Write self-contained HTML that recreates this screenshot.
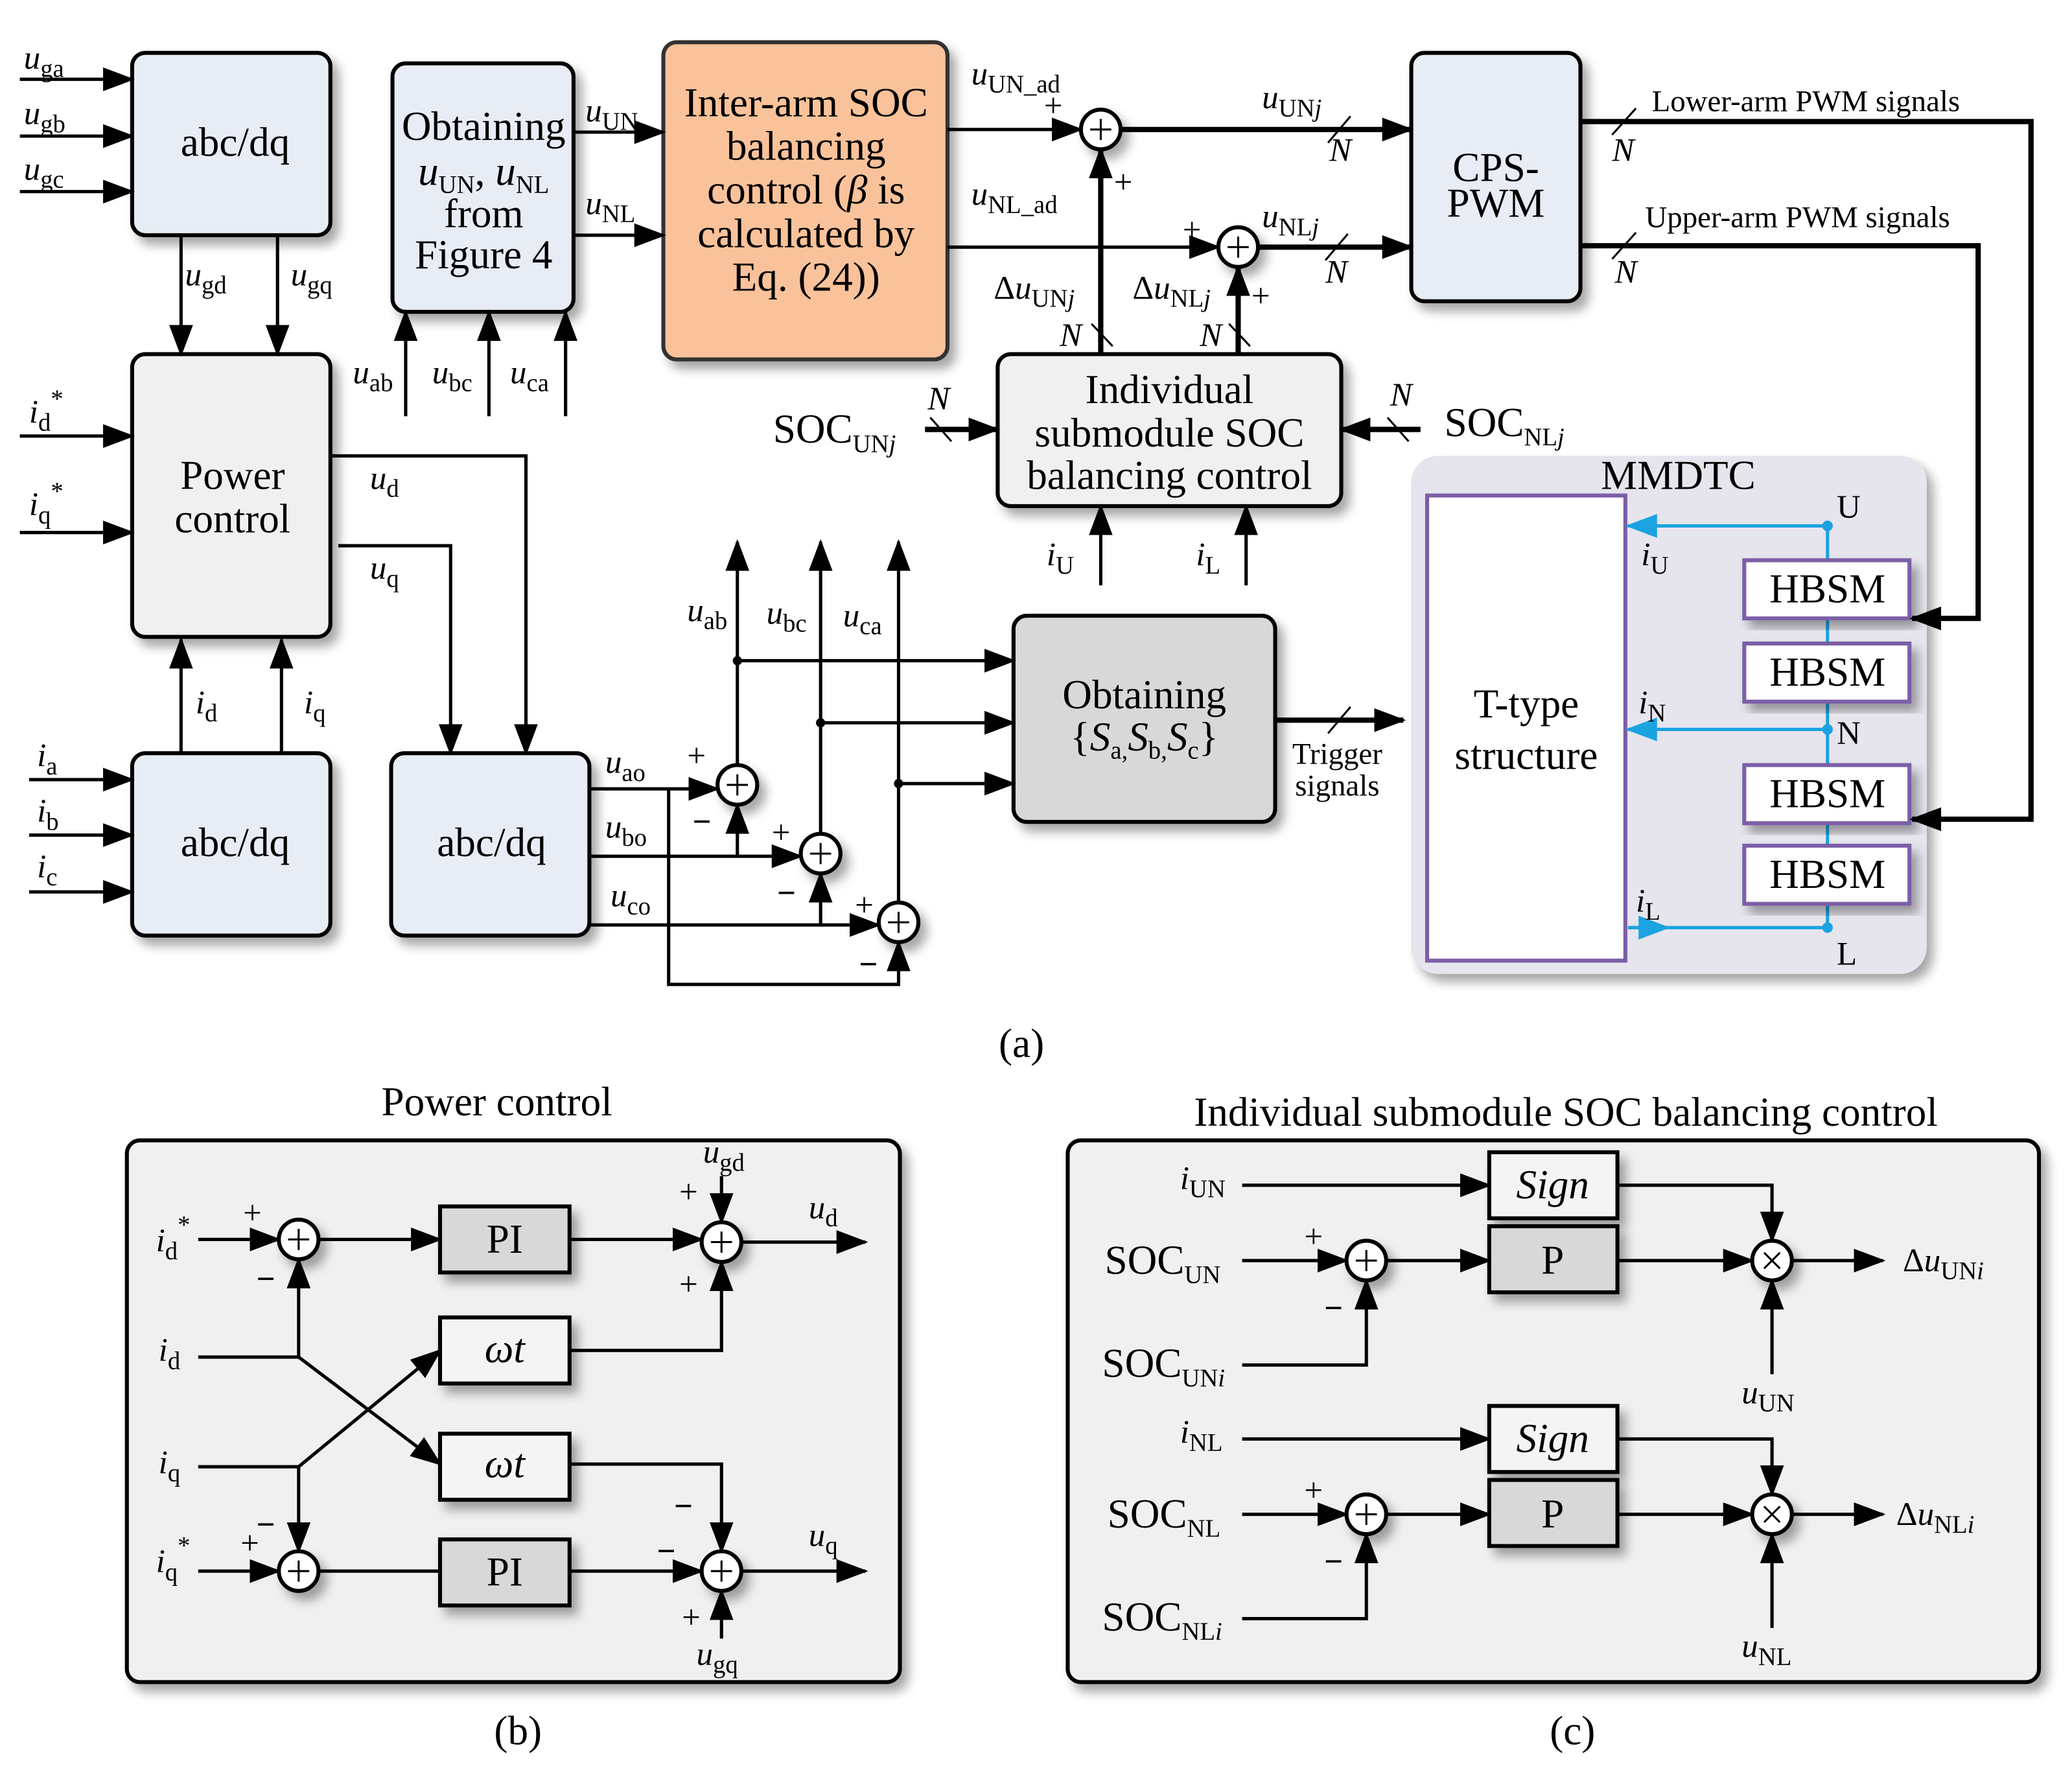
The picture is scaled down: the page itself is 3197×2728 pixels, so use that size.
<!DOCTYPE html>
<html><head><meta charset="utf-8"><style>
html,body{margin:0;padding:0;background:#fff}
svg{display:block}
text{font-family:"Liberation Serif","DejaVu Serif",serif;fill:#000}
.bx{font-size:31px}
.lb{font-size:25px}
.i{font-style:italic}
.s{font-size:19px;font-style:normal}
.si{font-size:19px;font-style:italic}
</style></head><body>
<svg width="3197" height="2728" viewBox="0 0 1568 1338" xmlns="http://www.w3.org/2000/svg">
<defs>
<marker id="a" markerUnits="userSpaceOnUse" markerWidth="24" markerHeight="18" refX="22" refY="9" orient="auto"><path d="M0,0 L24,9 L0,18 z" fill="#000"/></marker>
<marker id="ab" markerUnits="userSpaceOnUse" markerWidth="24" markerHeight="18" refX="22" refY="9" orient="auto"><path d="M0,0 L24,9 L0,18 z" fill="#1aa3e0"/></marker>
<filter id="sh" x="-10%" y="-10%" width="130%" height="130%"><feDropShadow dx="5" dy="6" stdDeviation="4" flood-color="#000" flood-opacity="0.35"/></filter>
</defs>
<g stroke="#000" stroke-width="2.5" fill="none">
<rect x="100" y="40" width="150" height="138" rx="10" fill="#e8ecf4" stroke-width="3" filter="url(#sh)"/>
<rect x="297" y="48" width="137" height="188" rx="10" fill="#e8ecf4" stroke-width="3" filter="url(#sh)"/>
<rect x="502" y="32" width="215" height="240" rx="10" fill="#f9c29a" stroke="#333" stroke-width="3" filter="url(#sh)"/>
<rect x="1068" y="40" width="128" height="188" rx="10" fill="#e8ecf4" stroke-width="3" filter="url(#sh)"/>
<rect x="100" y="268" width="150" height="214" rx="10" fill="#f0f0f0" stroke-width="3" filter="url(#sh)"/>
<rect x="100" y="570" width="150" height="138" rx="10" fill="#e8ecf4" stroke-width="3" filter="url(#sh)"/>
<rect x="296" y="570" width="150" height="138" rx="10" fill="#e8ecf4" stroke-width="3" filter="url(#sh)"/>
<rect x="755" y="268" width="260" height="115" rx="10" fill="#f0f0f0" stroke-width="3" filter="url(#sh)"/>
<rect x="767" y="466" width="198" height="156" rx="10" fill="#d8d8d8" stroke-width="3" filter="url(#sh)"/>
<rect x="1068" y="345" width="390" height="392" rx="20" fill="#e6e4ec" stroke="none" filter="url(#sh)"/>
<rect x="1080" y="375" width="150" height="352" fill="#fff" stroke="#7b5ea7" stroke-width="3"/>
<g stroke="#1aa3e0">
<line x1="1383" y1="398" x2="1383" y2="702"/>
<line x1="1383" y1="398" x2="1232" y2="398" marker-end="url(#ab)"/>
<line x1="1383" y1="552" x2="1232" y2="552" marker-end="url(#ab)"/>
<line x1="1232" y1="702" x2="1383" y2="702"/>
<line x1="1232" y1="702" x2="1262" y2="702" marker-end="url(#ab)"/>
</g>
<circle cx="1383" cy="398" r="4" fill="#1aa3e0" stroke="none"/>
<circle cx="1383" cy="552" r="4" fill="#1aa3e0" stroke="none"/>
<circle cx="1383" cy="702" r="4" fill="#1aa3e0" stroke="none"/>
<rect x="1320" y="424" width="125" height="44" fill="#fff" stroke="#7b5ea7" stroke-width="3" filter="url(#sh)"/>
<rect x="1320" y="487" width="125" height="44" fill="#fff" stroke="#7b5ea7" stroke-width="3" filter="url(#sh)"/>
<rect x="1320" y="579" width="125" height="44" fill="#fff" stroke="#7b5ea7" stroke-width="3" filter="url(#sh)"/>
<rect x="1320" y="640" width="125" height="44" fill="#fff" stroke="#7b5ea7" stroke-width="3" filter="url(#sh)"/>

<line x1="15" y1="60" x2="100" y2="60" marker-end="url(#a)"/>
<line x1="15" y1="103" x2="100" y2="103" marker-end="url(#a)"/>
<line x1="15" y1="145" x2="100" y2="145" marker-end="url(#a)"/>
<line x1="137" y1="178" x2="137" y2="268" marker-end="url(#a)"/>
<line x1="210" y1="178" x2="210" y2="268" marker-end="url(#a)"/>
<line x1="15" y1="330" x2="100" y2="330" marker-end="url(#a)"/>
<line x1="15" y1="403" x2="100" y2="403" marker-end="url(#a)"/>
<line x1="22" y1="590" x2="100" y2="590" marker-end="url(#a)"/>
<line x1="22" y1="632" x2="100" y2="632" marker-end="url(#a)"/>
<line x1="22" y1="675" x2="100" y2="675" marker-end="url(#a)"/>
<line x1="137" y1="570" x2="137" y2="484" marker-end="url(#a)"/>
<line x1="213" y1="570" x2="213" y2="484" marker-end="url(#a)"/>
<polyline points="250,345 398,345 398,570" marker-end="url(#a)"/>
<polyline points="256,413 341,413 341,570" marker-end="url(#a)"/>
<line x1="307" y1="315" x2="307" y2="236" marker-end="url(#a)"/>
<line x1="370" y1="315" x2="370" y2="236" marker-end="url(#a)"/>
<line x1="428" y1="315" x2="428" y2="236" marker-end="url(#a)"/>
<line x1="434" y1="100" x2="502" y2="100" marker-end="url(#a)"/>
<line x1="434" y1="178" x2="502" y2="178" marker-end="url(#a)"/>
<line x1="717" y1="98" x2="818" y2="98" marker-end="url(#a)"/>
<line x1="717" y1="187" x2="922" y2="187" marker-end="url(#a)"/>
<line x1="848" y1="98" x2="1068" y2="98" stroke-width="4" marker-end="url(#a)"/>
<line x1="952" y1="187" x2="1068" y2="187" stroke-width="4" marker-end="url(#a)"/>
<line x1="833" y1="268" x2="833" y2="113" stroke-width="4" marker-end="url(#a)"/>
<line x1="937" y1="268" x2="937" y2="202" stroke-width="4" marker-end="url(#a)"/>
<line x1="700" y1="325" x2="755" y2="325" stroke-width="4" marker-end="url(#a)"/>
<line x1="1075" y1="325" x2="1015" y2="325" stroke-width="4" marker-end="url(#a)"/>
<line x1="833" y1="443" x2="833" y2="383" marker-end="url(#a)"/>
<line x1="943" y1="443" x2="943" y2="383" marker-end="url(#a)"/>
<polyline points="1196,92 1537,92 1537,620 1447,620" stroke-width="4" marker-end="url(#a)"/>
<polyline points="1196,186 1497,186 1497,468 1447,468" stroke-width="4" marker-end="url(#a)"/>
<g stroke-width="1.5">
<line x1="1005" y1="108" x2="1022" y2="88"/><line x1="1003" y1="197" x2="1020" y2="177"/>
<line x1="1220" y1="102" x2="1238" y2="82"/><line x1="1220" y1="196" x2="1238" y2="176"/>
<line x1="826" y1="245" x2="842" y2="262"/><line x1="930" y1="245" x2="946" y2="262"/>
<line x1="704" y1="316" x2="720" y2="334"/><line x1="1050" y1="316" x2="1066" y2="334"/>
<line x1="1005" y1="555" x2="1022" y2="535"/>
</g>
<line x1="446" y1="597" x2="543" y2="597" marker-end="url(#a)"/>
<line x1="446" y1="648" x2="606" y2="648" marker-end="url(#a)"/>
<line x1="446" y1="700" x2="665" y2="700" marker-end="url(#a)"/>
<line x1="558" y1="648" x2="558" y2="609" marker-end="url(#a)"/>
<line x1="621" y1="700" x2="621" y2="661" marker-end="url(#a)"/>
<polyline points="506,597 506,745 680,745 680,713" marker-end="url(#a)"/>
<line x1="558" y1="579" x2="558" y2="410" marker-end="url(#a)"/>
<line x1="621" y1="631" x2="621" y2="410" marker-end="url(#a)"/>
<line x1="680" y1="683" x2="680" y2="410" marker-end="url(#a)"/>
<line x1="558" y1="500" x2="767" y2="500" marker-end="url(#a)"/>
<line x1="621" y1="547" x2="767" y2="547" marker-end="url(#a)"/>
<line x1="680" y1="593" x2="767" y2="593" marker-end="url(#a)"/>
<line x1="965" y1="545" x2="1062" y2="545" stroke-width="4" marker-end="url(#a)"/>
</g>
<circle cx="558" cy="500" r="3.5"/><circle cx="621" cy="547" r="3.5"/><circle cx="680" cy="593" r="3.5"/>

<g fill="#fff" stroke="#000" stroke-width="3" filter="url(#sh)">
<circle cx="833" cy="98" r="15"/><circle cx="937" cy="187" r="15"/>
<circle cx="558" cy="594" r="15"/><circle cx="621" cy="646" r="15"/><circle cx="680" cy="698" r="15"/>
</g>
<g stroke="#000" stroke-width="1.5">
<path d="M825,98h16M833,90v16M929,187h16M937,179v16M550,594h16M558,586v16M613,646h16M621,638v16M672,698h16M680,690v16"/>
</g>

<text class="bx" x="178" y="118" text-anchor="middle">abc/dq</text>
<text class="bx" x="178" y="648" text-anchor="middle">abc/dq</text>
<text class="bx" x="372" y="648" text-anchor="middle">abc/dq</text>
<text class="bx" x="366" y="106" text-anchor="middle">Obtaining</text>
<text class="bx" x="366" y="140" text-anchor="middle"><tspan class="i">u</tspan><tspan class="s" dy="6">UN</tspan><tspan dy="-6">, </tspan><tspan class="i">u</tspan><tspan class="s" dy="6">NL</tspan></text>
<text class="bx" x="366" y="172" text-anchor="middle">from</text>
<text class="bx" x="366" y="203" text-anchor="middle">Figure 4</text>
<text class="bx" x="610" y="88" text-anchor="middle">Inter-arm SOC</text>
<text class="bx" x="610" y="121" text-anchor="middle">balancing</text>
<text class="bx" x="610" y="154" text-anchor="middle">control (<tspan class="i">β</tspan> is</text>
<text class="bx" x="610" y="187" text-anchor="middle">calculated by</text>
<text class="bx" x="610" y="220" text-anchor="middle">Eq. (24))</text>
<text class="bx" x="1132" y="137" text-anchor="middle">CPS-</text>
<text class="bx" x="1132" y="164" text-anchor="middle">PWM</text>
<text class="bx" x="176" y="370" text-anchor="middle">Power</text>
<text class="bx" x="176" y="403" text-anchor="middle">control</text>
<text class="bx" x="885" y="305" text-anchor="middle">Individual</text>
<text class="bx" x="885" y="338" text-anchor="middle">submodule SOC</text>
<text class="bx" x="885" y="370" text-anchor="middle">balancing control</text>
<text class="bx" x="866" y="536" text-anchor="middle">Obtaining</text>
<text class="bx" x="866" y="568" text-anchor="middle">{<tspan class="i">S</tspan><tspan class="s" dy="6">a,</tspan><tspan class="i" dy="-6">S</tspan><tspan class="s" dy="6">b,</tspan><tspan class="i" dy="-6">S</tspan><tspan class="s" dy="6">c</tspan><tspan dy="-6">}</tspan></text>
<text class="bx" x="1155" y="543" text-anchor="middle">T-type</text>
<text class="bx" x="1155" y="582" text-anchor="middle">structure</text>
<text class="bx" x="1383" y="456" text-anchor="middle">HBSM</text>
<text class="bx" x="1383" y="519" text-anchor="middle">HBSM</text>
<text class="bx" x="1383" y="611" text-anchor="middle">HBSM</text>
<text class="bx" x="1383" y="672" text-anchor="middle">HBSM</text>
<text class="bx" x="1270" y="370" text-anchor="middle">MMDTC</text>
<text class="lb" x="1390" y="392">U</text><text class="lb" x="1390" y="563">N</text><text class="lb" x="1390" y="730">L</text>
<text class="lb" x="1242" y="428"><tspan class="i">i</tspan><tspan class="s" dy="6">U</tspan></text>
<text class="lb" x="1240" y="540"><tspan class="i">i</tspan><tspan class="s" dy="6">N</tspan></text>
<text class="lb" x="1238" y="690"><tspan class="i">i</tspan><tspan class="s" dy="6">L</tspan></text>

<g class="lb">
<text class="lb" x="18" y="52"><tspan class="i">u</tspan><tspan class="s" dy="6">ga</tspan></text>
<text class="lb" x="18" y="94"><tspan class="i">u</tspan><tspan class="s" dy="6">gb</tspan></text>
<text class="lb" x="18" y="136"><tspan class="i">u</tspan><tspan class="s" dy="6">gc</tspan></text>
<text class="lb" x="140" y="216"><tspan class="i">u</tspan><tspan class="s" dy="6">gd</tspan></text>
<text class="lb" x="220" y="216"><tspan class="i">u</tspan><tspan class="s" dy="6">gq</tspan></text>
<text class="lb" x="22" y="320"><tspan class="i">i</tspan><tspan class="s" dy="6">d</tspan><tspan class="s" dy="-18">*</tspan></text>
<text class="lb" x="22" y="390"><tspan class="i">i</tspan><tspan class="s" dy="6">q</tspan><tspan class="s" dy="-18">*</tspan></text>
<text class="lb" x="28" y="580"><tspan class="i">i</tspan><tspan class="s" dy="6">a</tspan></text>
<text class="lb" x="28" y="622"><tspan class="i">i</tspan><tspan class="s" dy="6">b</tspan></text>
<text class="lb" x="28" y="664"><tspan class="i">i</tspan><tspan class="s" dy="6">c</tspan></text>
<text class="lb" x="148" y="540"><tspan class="i">i</tspan><tspan class="s" dy="6">d</tspan></text>
<text class="lb" x="230" y="540"><tspan class="i">i</tspan><tspan class="s" dy="6">q</tspan></text>
<text class="lb" x="280" y="370"><tspan class="i">u</tspan><tspan class="s" dy="6">d</tspan></text>
<text class="lb" x="280" y="438"><tspan class="i">u</tspan><tspan class="s" dy="6">q</tspan></text>
<text class="lb" x="267" y="290"><tspan class="i">u</tspan><tspan class="s" dy="6">ab</tspan></text>
<text class="lb" x="327" y="290"><tspan class="i">u</tspan><tspan class="s" dy="6">bc</tspan></text>
<text class="lb" x="386" y="290"><tspan class="i">u</tspan><tspan class="s" dy="6">ca</tspan></text>
<text class="lb" x="443" y="92"><tspan class="i">u</tspan><tspan class="s" dy="6">UN</tspan></text>
<text class="lb" x="443" y="162"><tspan class="i">u</tspan><tspan class="s" dy="6">NL</tspan></text>
<text class="lb" x="735" y="64"><tspan class="i">u</tspan><tspan class="s" dy="6">UN_ad</tspan></text>
<text class="lb" x="735" y="155"><tspan class="i">u</tspan><tspan class="s" dy="6">NL_ad</tspan></text>
<text class="lb" x="790" y="88">+</text><text class="lb" x="843" y="146">+</text>
<text class="lb" x="895" y="182">+</text><text class="lb" x="947" y="232">+</text>
<text class="lb" x="955" y="82"><tspan class="i">u</tspan><tspan class="s" dy="6">UN</tspan><tspan class="si">j</tspan></text>
<text class="lb" x="955" y="172"><tspan class="i">u</tspan><tspan class="s" dy="6">NL</tspan><tspan class="si">j</tspan></text>
<text class="lb i" x="1006" y="122">N</text><text class="lb i" x="1003" y="214">N</text>
<text class="lb i" x="1220" y="122">N</text><text class="lb i" x="1222" y="214">N</text>
<text class="lb" x="752" y="226">Δ<tspan class="i">u</tspan><tspan class="s" dy="6">UN</tspan><tspan class="si">j</tspan></text>
<text class="lb" x="857" y="226">Δ<tspan class="i">u</tspan><tspan class="s" dy="6">NL</tspan><tspan class="si">j</tspan></text>
<text class="lb i" x="802" y="262">N</text><text class="lb i" x="908" y="262">N</text>
<text class="lb i" x="702" y="310">N</text><text class="lb i" x="1052" y="307">N</text>
<text class="bx" x="585" y="335">SOC<tspan class="s" dy="7">UN</tspan><tspan class="si">j</tspan></text>
<text class="bx" x="1093" y="330">SOC<tspan class="s" dy="7">NL</tspan><tspan class="si">j</tspan></text>
<text class="lb" x="792" y="428"><tspan class="i">i</tspan><tspan class="s" dy="6">U</tspan></text>
<text class="lb" x="905" y="428"><tspan class="i">i</tspan><tspan class="s" dy="6">L</tspan></text>
<text class="lb" x="1250" y="84" style="font-size:23px">Lower-arm PWM signals</text>
<text class="lb" x="1245" y="172" style="font-size:23px">Upper-arm  PWM signals</text>
<text class="lb" x="520" y="470"><tspan class="i">u</tspan><tspan class="s" dy="6">ab</tspan></text>
<text class="lb" x="580" y="472"><tspan class="i">u</tspan><tspan class="s" dy="6">bc</tspan></text>
<text class="lb" x="638" y="474"><tspan class="i">u</tspan><tspan class="s" dy="6">ca</tspan></text>
<text class="lb" x="458" y="585"><tspan class="i">u</tspan><tspan class="s" dy="6">ao</tspan></text>
<text class="lb" x="458" y="634"><tspan class="i">u</tspan><tspan class="s" dy="6">bo</tspan></text>
<text class="lb" x="462" y="686"><tspan class="i">u</tspan><tspan class="s" dy="6">co</tspan></text>
<text class="lb" x="520" y="580">+</text><text class="lb" x="584" y="638">+</text><text class="lb" x="647" y="693">+</text>
<text class="lb" x="524" y="630" style="font-weight:bold">−</text><text class="lb" x="588" y="684" style="font-weight:bold">−</text><text class="lb" x="650" y="738" style="font-weight:bold">−</text>
<text class="lb" x="1012" y="578" text-anchor="middle" style="font-size:23px">Trigger</text>
<text class="lb" x="1012" y="602" text-anchor="middle" style="font-size:23px">signals</text>
<text class="bx" x="773" y="800" text-anchor="middle">(a)</text>
</g>

<text class="bx" x="376" y="844" text-anchor="middle">Power control</text>
<rect x="96" y="863" width="585" height="410" rx="10" fill="#f0f0f0" stroke="#000" stroke-width="3" filter="url(#sh)"/>
<g stroke="#000" stroke-width="2.5" fill="none">
<line x1="150" y1="938" x2="211" y2="938" marker-end="url(#a)"/>
<line x1="241" y1="938" x2="333" y2="938" marker-end="url(#a)"/>
<line x1="431" y1="938" x2="531" y2="938" marker-end="url(#a)"/>
<line x1="561" y1="940" x2="655" y2="940" marker-end="url(#a)"/>
<line x1="546" y1="890" x2="546" y2="925" marker-end="url(#a)"/>
<line x1="150" y1="1027" x2="226" y2="1027"/>
<line x1="226" y1="1027" x2="226" y2="953" marker-end="url(#a)"/>
<line x1="226" y1="1027" x2="333" y2="1108" marker-end="url(#a)"/>
<line x1="150" y1="1110" x2="226" y2="1110"/>
<line x1="226" y1="1110" x2="333" y2="1022" marker-end="url(#a)"/>
<line x1="226" y1="1110" x2="226" y2="1174" marker-end="url(#a)"/>
<polyline points="431,1022 546,1022 546,955" marker-end="url(#a)"/>
<polyline points="431,1108 546,1108 546,1174" marker-end="url(#a)"/>
<line x1="150" y1="1189" x2="211" y2="1189" marker-end="url(#a)"/>
<line x1="241" y1="1189" x2="333" y2="1189"/>
<line x1="431" y1="1189" x2="531" y2="1189" marker-end="url(#a)"/>
<line x1="561" y1="1189" x2="655" y2="1189" marker-end="url(#a)"/>
<line x1="546" y1="1240" x2="546" y2="1204" marker-end="url(#a)"/>
</g>
<g stroke="#000" stroke-width="3" filter="url(#sh)">
<rect x="333" y="913" width="98" height="50" fill="#d8d8d8"/>
<rect x="333" y="997" width="98" height="50" fill="#f4f4f4"/>
<rect x="333" y="1085" width="98" height="50" fill="#f4f4f4"/>
<rect x="333" y="1165" width="98" height="50" fill="#d8d8d8"/>
<circle cx="226" cy="938" r="15" fill="#fff"/><circle cx="546" cy="940" r="15" fill="#fff"/>
<circle cx="226" cy="1189" r="15" fill="#fff"/><circle cx="546" cy="1189" r="15" fill="#fff"/>
</g>
<path d="M218,938h16M226,930v16M538,940h16M546,932v16M218,1189h16M226,1181v16M538,1189h16M546,1181v16" stroke="#000" stroke-width="1.5"/>
<text class="bx" x="382" y="948" text-anchor="middle">PI</text>
<text class="bx i" x="382" y="1031" text-anchor="middle">ωt</text>
<text class="bx i" x="382" y="1118" text-anchor="middle">ωt</text>
<text class="bx" x="382" y="1200" text-anchor="middle">PI</text>
<text class="lb" x="118" y="947"><tspan class="i">i</tspan><tspan class="s" dy="6">d</tspan><tspan class="s" dy="-20">*</tspan></text>
<text class="lb" x="120" y="1030"><tspan class="i">i</tspan><tspan class="s" dy="6">d</tspan></text>
<text class="lb" x="120" y="1115"><tspan class="i">i</tspan><tspan class="s" dy="6">q</tspan></text>
<text class="lb" x="118" y="1190"><tspan class="i">i</tspan><tspan class="s" dy="6">q</tspan><tspan class="s" dy="-20">*</tspan></text>
<text class="lb" x="184" y="926">+</text><text class="lb" x="194" y="976" style="font-weight:bold">−</text>
<text class="lb" x="194" y="1162" style="font-weight:bold">−</text><text class="lb" x="182" y="1176">+</text>
<text class="lb" x="514" y="910">+</text><text class="lb" x="514" y="980">+</text>
<text class="lb" x="510" y="1148" style="font-weight:bold">−</text><text class="lb" x="497" y="1182" style="font-weight:bold">−</text><text class="lb" x="516" y="1232">+</text>
<text class="lb" x="532" y="880"><tspan class="i">u</tspan><tspan class="s" dy="6">gd</tspan></text>
<text class="lb" x="612" y="922"><tspan class="i">u</tspan><tspan class="s" dy="6">d</tspan></text>
<text class="lb" x="612" y="1170"><tspan class="i">u</tspan><tspan class="s" dy="6">q</tspan></text>
<text class="lb" x="527" y="1260"><tspan class="i">u</tspan><tspan class="s" dy="6">gq</tspan></text>
<text class="bx" x="392" y="1320" text-anchor="middle">(b)</text>

<text class="bx" x="1185" y="852" text-anchor="middle">Individual submodule SOC balancing control</text>
<rect x="808" y="863" width="735" height="410" rx="10" fill="#f0f0f0" stroke="#000" stroke-width="3" filter="url(#sh)"/>
<g id="cblk">
<g stroke="#000" stroke-width="2.5" fill="none">
<line x1="940" y1="897" x2="1127" y2="897" marker-end="url(#a)"/>
<polyline points="1224,897 1341,897 1341,939" marker-end="url(#a)"/>
<line x1="940" y1="954" x2="1019" y2="954" marker-end="url(#a)"/>
<line x1="1049" y1="954" x2="1127" y2="954" marker-end="url(#a)"/>
<line x1="1224" y1="954" x2="1326" y2="954" marker-end="url(#a)"/>
<line x1="1356" y1="954" x2="1425" y2="954" marker-end="url(#a)"/>
<line x1="1341" y1="1040" x2="1341" y2="969" marker-end="url(#a)"/>
<polyline points="940,1033 1034,1033 1034,969" marker-end="url(#a)"/>
</g>
<g stroke="#000" stroke-width="3" filter="url(#sh)">
<rect x="1127" y="872" width="97" height="50" fill="#f4f4f4"/>
<rect x="1127" y="928" width="97" height="50" fill="#d8d8d8"/>
<circle cx="1034" cy="954" r="15" fill="#fff"/><circle cx="1341" cy="954" r="15" fill="#fff"/>
</g>
<path d="M1026,954h16M1034,946v16M1335,948l12,12M1347,948l-12,12" stroke="#000" stroke-width="1.5"/>
<text class="bx i" x="1175" y="907" text-anchor="middle">Sign</text>
<text class="bx" x="1175" y="964" text-anchor="middle">P</text>
<text class="lb" x="987" y="944">+</text><text class="lb" x="1002" y="998" style="font-weight:bold">−</text>
</g>
<use href="#cblk" y="192"/>
<text class="lb" x="893" y="900"><tspan class="i">i</tspan><tspan class="s" dy="6">UN</tspan></text>
<text class="bx" x="836" y="964">SOC<tspan class="s" dy="7">UN</tspan></text>
<text class="bx" x="834" y="1042">SOC<tspan class="s" dy="7">UN</tspan><tspan class="si">i</tspan></text>
<text class="lb" x="1440" y="962">Δ<tspan class="i">u</tspan><tspan class="s" dy="6">UN</tspan><tspan class="si">i</tspan></text>
<text class="lb" x="1318" y="1062"><tspan class="i">u</tspan><tspan class="s" dy="6">UN</tspan></text>
<text class="lb" x="893" y="1092"><tspan class="i">i</tspan><tspan class="s" dy="6">NL</tspan></text>
<text class="bx" x="838" y="1156">SOC<tspan class="s" dy="7">NL</tspan></text>
<text class="bx" x="834" y="1234">SOC<tspan class="s" dy="7">NL</tspan><tspan class="si">i</tspan></text>
<text class="lb" x="1435" y="1154">Δ<tspan class="i">u</tspan><tspan class="s" dy="6">NL</tspan><tspan class="si">i</tspan></text>
<text class="lb" x="1318" y="1254"><tspan class="i">u</tspan><tspan class="s" dy="6">NL</tspan></text>
<text class="bx" x="1190" y="1320" text-anchor="middle">(c)</text>
</svg>
</body></html>
